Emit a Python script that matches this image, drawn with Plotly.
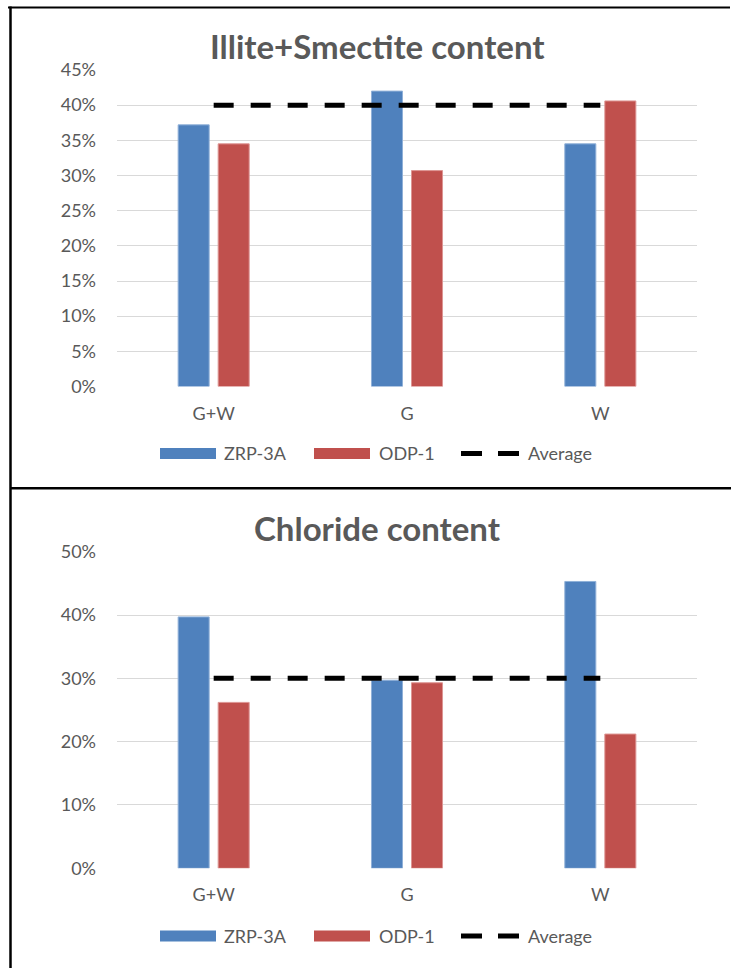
import plotly.graph_objects as go

# ---- data ----
categories = ["G+W", "G", "W"]
illite_zrp = [0.372, 0.420, 0.345]
illite_odp = [0.345, 0.307, 0.406]
illite_avg = [0.40, 0.40, 0.40]
chloride_zrp = [0.397, 0.297, 0.453]
chloride_odp = [0.262, 0.293, 0.212]
chloride_avg = [0.30, 0.30, 0.30]
titles = ["Illite+Smectite content", "Chloride content"]
series_names = ["ZRP-3A", "ODP-1", "Average"]

W, H = 731, 968
BLUE, RED = "#4f81bd", "#c0504d"
TXT = "#595959"
FONT = "Lato"


def px(x):
    return x / W


def py(y):
    return 1 - y / H


fig = go.Figure()

panels = [
    (illite_zrp, illite_odp, illite_avg, "x", "y"),
    (chloride_zrp, chloride_odp, chloride_avg, "x2", "y2"),
]
for zrp, odp, avg, xa, ya in panels:
    fig.add_trace(go.Bar(x=categories, y=zrp, name=series_names[0], xaxis=xa, yaxis=ya,
                         marker=dict(color=BLUE, line=dict(color="#8fb0d8", width=1)),
                         showlegend=False))
    fig.add_trace(go.Bar(x=categories, y=odp, name=series_names[1], xaxis=xa, yaxis=ya,
                         marker=dict(color=RED, line=dict(color="#dd9593", width=1)),
                         showlegend=False))
    fig.add_trace(go.Scatter(x=categories, y=avg, name=series_names[2], xaxis=xa, yaxis=ya,
                             mode="lines", line=dict(color="black", width=5, dash="20px,17px"),
                             showlegend=False))

axis_common = dict(showline=False, zeroline=False, ticks="", automargin=False,
                   tickfont=dict(family=FONT, size=18, color=TXT))
fig.update_layout(
    width=W, height=H,
    margin=dict(l=0, r=0, t=0, b=0, pad=0, autoexpand=False),
    paper_bgcolor="white", plot_bgcolor="white",
    barmode="group", bargap=0.586, bargroupgap=0.225,
    font=dict(family=FONT, color=TXT),
    xaxis=dict(domain=[px(117), px(697)], anchor="y", showgrid=False, ticklabelstandoff=14, **axis_common),
    yaxis=dict(domain=[py(386.5), py(70)], anchor="x", range=[0, 0.45], dtick=0.05, tickformat=".0%",
               showgrid=True, gridcolor="#d9d9d9", gridwidth=1, ticklabelstandoff=20, **axis_common),
    xaxis2=dict(domain=[px(117), px(697)], anchor="y2", showgrid=False, ticklabelstandoff=14, **axis_common),
    yaxis2=dict(domain=[py(868.3), py(551.7)], anchor="x2", range=[0, 0.5], dtick=0.1, tickformat=".0%",
                showgrid=True, gridcolor="#d9d9d9", gridwidth=1, ticklabelstandoff=20, **axis_common),
)

# panel titles
for title, yc in zip(titles, [46, 528]):
    fig.add_annotation(x=px(377), y=py(yc), xref="paper", yref="paper", text="<b>%s</b>" % title,
                       showarrow=False, xanchor="center", yanchor="middle",
                       font=dict(family=FONT, size=33, color=TXT))

# legend rows drawn under each panel
shapes = []
for yc in [453.5, 936]:
    shapes.append(dict(type="rect", xref="paper", yref="paper", x0=px(160), x1=px(216),
                       y0=py(yc + 5.5), y1=py(yc - 5.5), fillcolor=BLUE, line=dict(width=0)))
    shapes.append(dict(type="rect", xref="paper", yref="paper", x0=px(314), x1=px(370),
                       y0=py(yc + 5.5), y1=py(yc - 5.5), fillcolor=RED, line=dict(width=0)))
    shapes.append(dict(type="line", xref="paper", yref="paper", x0=px(461), x1=px(519),
                       y0=py(yc), y1=py(yc), line=dict(color="black", width=5, dash="21px,16px")))
    for name, x0 in zip(series_names, [222, 377, 526]):
        fig.add_annotation(x=px(x0), y=py(yc), xref="paper", yref="paper", text=name, showarrow=False,
                           xanchor="left", yanchor="middle", font=dict(family=FONT, size=18, color=TXT))

# frame lines
shapes.append(dict(type="line", xref="paper", yref="paper", x0=px(8), x1=px(730), y0=py(7.5), y1=py(7.5),
                   line=dict(color="black", width=2)))
shapes.append(dict(type="line", xref="paper", yref="paper", x0=px(10.5), x1=px(10.5), y0=py(6.5), y1=py(968),
                   line=dict(color="black", width=2.5)))
shapes.append(dict(type="line", xref="paper", yref="paper", x0=px(10.5), x1=px(731), y0=py(488.3), y1=py(488.3),
                   line=dict(color="black", width=2.5)))
fig.update_layout(shapes=shapes)

fig.write_html("out.html")
